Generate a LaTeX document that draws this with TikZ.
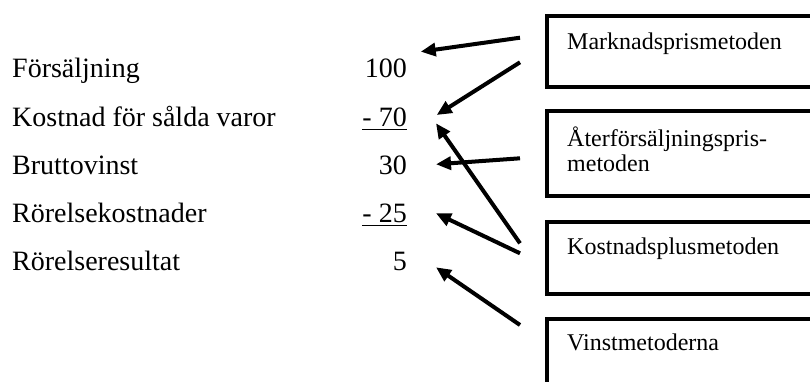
\documentclass[tikz,border=0pt]{standalone}
\usepackage{fontspec}
\setmainfont{Liberation Serif}
\usetikzlibrary{arrows.meta}
\begin{document}
\begin{tikzpicture}[x=1pt,y=-1pt,
  lbl/.style={inner sep=0pt, font=\fontsize{28}{32}\selectfont},
  boxtext/.style={inner sep=0pt, font=\fontsize{24}{25}\selectfont, anchor=base west},
  methodbox/.style={draw, line width=4pt, inner sep=0pt, anchor=north west, minimum width=320pt},
  arr/.style={line width=4pt, -{Triangle[length=15pt,width=13pt]}},
  uline/.style={line width=1.8pt}]
\clip (0,0) rectangle (810,382);
% left column
\node[lbl, anchor=base west] (l1) at (12,77.7) {Försäljning};
\node[lbl, anchor=base west] (l2) at (12,126.7) {Kostnad för sålda varor};
\node[lbl, anchor=base west] (l3) at (12,174.3) {Bruttovinst};
\node[lbl, anchor=base west] (l4) at (12,222.7) {Rörelsekostnader};
\node[lbl, anchor=base west] (l5) at (12,270.7) {Rörelseresultat};
% values
\node[lbl, anchor=base east] (v1) at (407,77.7) {100};
\node[lbl, anchor=base east] (v2) at (407,126.7) {- 70};
\node[lbl, anchor=base east] (v3) at (407,174.3) {30};
\node[lbl, anchor=base east] (v4) at (407,222.7) {- 25};
\node[lbl, anchor=base east] (v5) at (407,270.7) {5};
\draw[uline] ([yshift=-2.8pt]v2.base west) -- ([yshift=-2.8pt]v2.base east);
\draw[uline] ([yshift=-2.8pt]v4.base west) -- ([yshift=-2.8pt]v4.base east);
% method boxes
\node[methodbox, minimum height=71.6pt] (b1) at (545,13.7) {};
\node[methodbox, minimum height=84.7pt] (b2) at (545,109.3) {};
\node[methodbox, minimum height=71.7pt] (b3) at (545,220.3) {};
\node[methodbox, minimum height=120pt] (b4) at (545,317) {};
\node[boxtext] (t1) at (567,49.3) {Marknadsprismetoden};
\node[boxtext] (t2a) at (567,146.7) {Återförsäljningspris-};
\node[boxtext] (t2b) at (567,171.7) {metoden};
\node[boxtext] (t3) at (567,254) {Kostnadsplusmetoden};
\node[boxtext] (t4) at (567,350) {Vinstmetoderna};
% arrow ends
\coordinate (s1) at (520,37.7);  \coordinate (e1) at (420.7,51.7);
\coordinate (s2) at (520,62.3);  \coordinate (e2) at (436.7,115);
\coordinate (s3) at (520,158.3); \coordinate (e3) at (436,164.3);
\coordinate (s4) at (520,243.3); \coordinate (e4) at (436,123.3);
\coordinate (s5) at (520,253.3); \coordinate (e5) at (436,213.3);
\coordinate (s6) at (520,325);   \coordinate (e6) at (436,267.3);
\draw[arr] (s1) -- (e1);
\draw[arr] (s2) -- (e2);
\draw[arr] (s3) -- (e3);
\draw[arr] (s4) -- (e4);
\draw[arr] (s5) -- (e5);
\draw[arr] (s6) -- (e6);
\end{tikzpicture}
\end{document}
